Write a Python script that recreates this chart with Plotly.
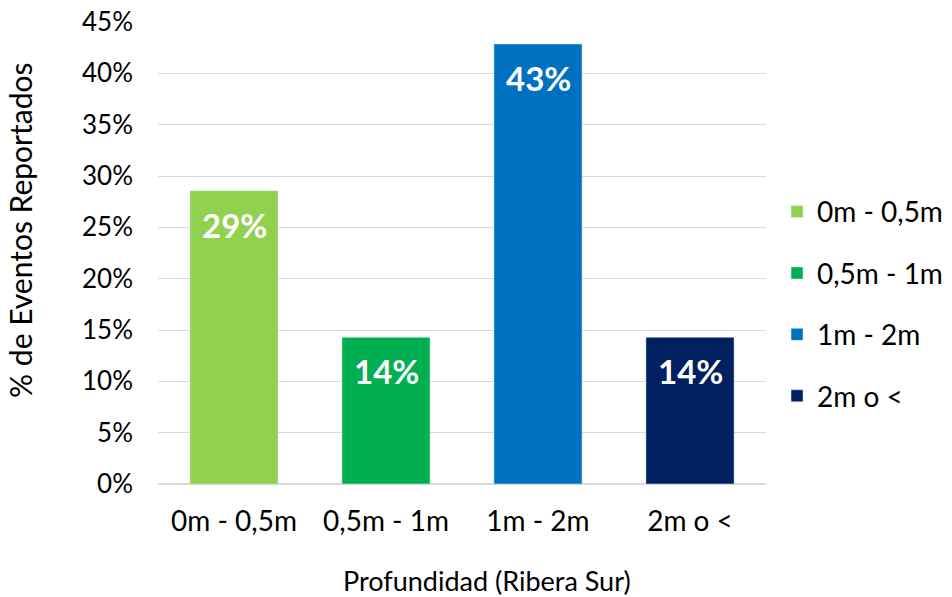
import plotly.graph_objects as go

categories = ["0m - 0,5m", "0,5m - 1m", "1m - 2m", "2m o <"]
values = [28.57, 14.29, 42.86, 14.29]
labels = ["29%", "14%", "43%", "14%"]
colors = ["#92d050", "#00b050", "#0070c0", "#002060"]

FONT = "Lato, Open Sans, sans-serif"

fig = go.Figure()
for i, (c, v, col) in enumerate(zip(categories, values, colors)):
    fig.add_trace(go.Bar(
        x=[c], y=[v], name=c, marker_color=col, width=0.58,
        legendgroup=f"g{i}", hoverinfo="skip",
    ))
    fig.add_annotation(x=c, y=v, text=f"<b>{labels[i]}</b>", showarrow=False,
                       yshift=-34, font=dict(color="white", size=33, family=FONT))

# axis titles
fig.add_annotation(text="% de Eventos Reportados", xref="paper", yref="paper",
                   x=-0.227, y=0.55, textangle=-90, showarrow=False,
                   xanchor="center", yanchor="middle", font=dict(size=30, family=FONT))
fig.add_annotation(text="Profundidad (Ribera Sur)", xref="paper", yref="paper",
                   x=0.541, y=-0.208, showarrow=False,
                   xanchor="center", yanchor="middle", font=dict(size=27, family=FONT))

fig.update_layout(
    width=952, height=597,
    margin=dict(l=158, r=186, t=22, b=113),
    paper_bgcolor="white", plot_bgcolor="white",
    barmode="overlay",
    font=dict(family=FONT, size=26, color="#000000"),
    showlegend=True,
    legend=dict(xref="container", yref="container", x=0.8162, y=0.491,
                xanchor="left", yanchor="middle",
                font=dict(size=28, family=FONT), tracegroupgap=22,
                itemwidth=30, bgcolor="rgba(0,0,0,0)"),
    xaxis=dict(
        categoryorder="array", categoryarray=categories, automargin=False,
        tickfont=dict(size=28), showgrid=False, showline=False, ticks="",
        ticklabelstandoff=18,
    ),
    yaxis=dict(
        range=[0, 45], dtick=5, ticksuffix="%", showgrid=True, gridcolor="#d9d9d9",
        gridwidth=1, zeroline=True, zerolinecolor="#d9d9d9", showline=False,
        tickfont=dict(size=26), ticks="", ticklen=0, automargin=False,
        ticklabelstandoff=24,
    ),
)

fig.write_html("out.html", config={"displayModeBar": False},
               post_script="document.body.style.margin='0';")
